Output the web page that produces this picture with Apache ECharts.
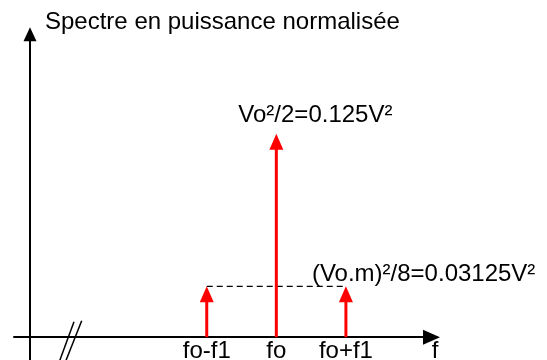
<!DOCTYPE html>
<html>
<head>
<meta charset="utf-8">
<script src="https://cdn.jsdelivr.net/npm/echarts@6/dist/echarts.min.js"></script>
<style>
  html, body { margin: 0; padding: 0; background: #fff; }
  #chart { width: 547px; height: 360px; }
</style>
</head>
<body>
<div id="chart"></div>
<script>
// Normalised power spectrum of an AM signal: carrier + two side bands.
const categories = ['fo-f1', 'fo', 'fo+f1'];
const frequencies = [2.54, 3.54, 4.54];          // f1 taken as one unit, axis broken before fo-f1
const powers = [0.03125, 0.125, 0.03125];        // V²
const valueLabels = ['', 'Vo²/2=' + powers[1] + 'V²', '(Vo.m)²/8=' + powers[2] + 'V²'];
const yAxisTitle = 'Spectre en puissance normalisée';
const xAxisTitle = 'f';

const FONT = '"Liberation Sans", Arial, Helvetica, sans-serif';
const TEXT_SIZE = 24;
const RED = '#ff0000';

// where each value caption sits relative to its arrow tip
const captionOffset = [null, { dx: -38, dy: -18 }, { dx: -34, dy: -12 }];

function textStyle(text, align) {
  return {
    text: text, font: TEXT_SIZE + 'px ' + FONT, fill: '#000',
    align: align, textAlign: align, verticalAlign: 'middle', textVerticalAlign: 'middle'
  };
}

function renderStem(params, api) {
  const i = params.dataIndex;
  const x = api.value(0);
  const v = api.value(1);
  const base = api.coord([x, 0]);
  const tip = api.coord([x, v]);
  const headH = 16, headW = 14;
  const children = [
    {
      type: 'line',
      shape: { x1: base[0], y1: base[1], x2: tip[0], y2: tip[1] + headH - 1 },
      style: { stroke: RED, lineWidth: 3 }
    },
    {
      type: 'polygon',
      shape: { points: [[tip[0], tip[1]], [tip[0] - headW / 2, tip[1] + headH], [tip[0] + headW / 2, tip[1] + headH]] },
      style: { fill: RED }
    },
    { type: 'text', x: base[0], y: base[1] + 14, style: textStyle(categories[i], 'center') }
  ];
  const off = captionOffset[i];
  if (off && valueLabels[i]) {
    children.push({ type: 'text', x: tip[0] + off.dx, y: tip[1] + off.dy, style: textStyle(valueLabels[i], 'left') });
  }
  return { type: 'group', children: children };
}

const chart = echarts.init(document.getElementById('chart'), null, { renderer: 'canvas' });

const axisCommon = {
  type: 'value',
  axisTick: { show: false },
  axisLabel: { show: false },
  splitLine: { show: false }
};

chart.setOption({
  animation: false,
  backgroundColor: '#fff',
  grid: { left: 14, right: 115.5, top: 34.3, bottom: 0 },
  xAxis: Object.assign({}, axisCommon, {
    min: -0.23, max: 5.77,
    axisLine: {
      onZero: true,
      lineStyle: { color: '#000', width: 2 },
      symbol: ['none', 'triangle'],
      symbolSize: [15, 17]
    }
  }),
  yAxis: Object.assign({}, axisCommon, {
    min: -0.014, max: 0.186,
    axisLine: {
      onZero: true,
      lineStyle: { color: '#000', width: 2 },
      symbol: ['none', 'triangle'],
      symbolSize: [13, 14]
    }
  }),
  series: [
    {
      // side-band level reference
      type: 'line',
      silent: true,
      symbol: 'none',
      z: 1,
      data: [[frequencies[0], powers[0]], [frequencies[2], powers[2]]],
      lineStyle: { color: '#000', width: 1.3, type: [6, 4] }
    },
    {
      type: 'custom',
      z: 3,
      silent: true,
      clip: false,
      renderItem: renderStem,
      data: frequencies.map((f, i) => [f, powers[i]])
    }
  ],
  graphic: [
    { type: 'text', x: 45, y: 22, silent: true, style: textStyle(yAxisTitle, 'left') },
    { type: 'text', x: 435, y: 351, silent: true, style: textStyle(xAxisTitle, 'center') },
    // axis break marks
    {
      type: 'line', silent: true,
      shape: { x1: 59.3, y1: 361.7, x2: 74, y2: 321.7 },
      style: { stroke: '#000', lineWidth: 1.5 }
    },
    {
      type: 'line', silent: true,
      shape: { x1: 65.5, y1: 361.7, x2: 81.7, y2: 320.7 },
      style: { stroke: '#000', lineWidth: 1.5 }
    }
  ]
});
</script>
</body>
</html>
